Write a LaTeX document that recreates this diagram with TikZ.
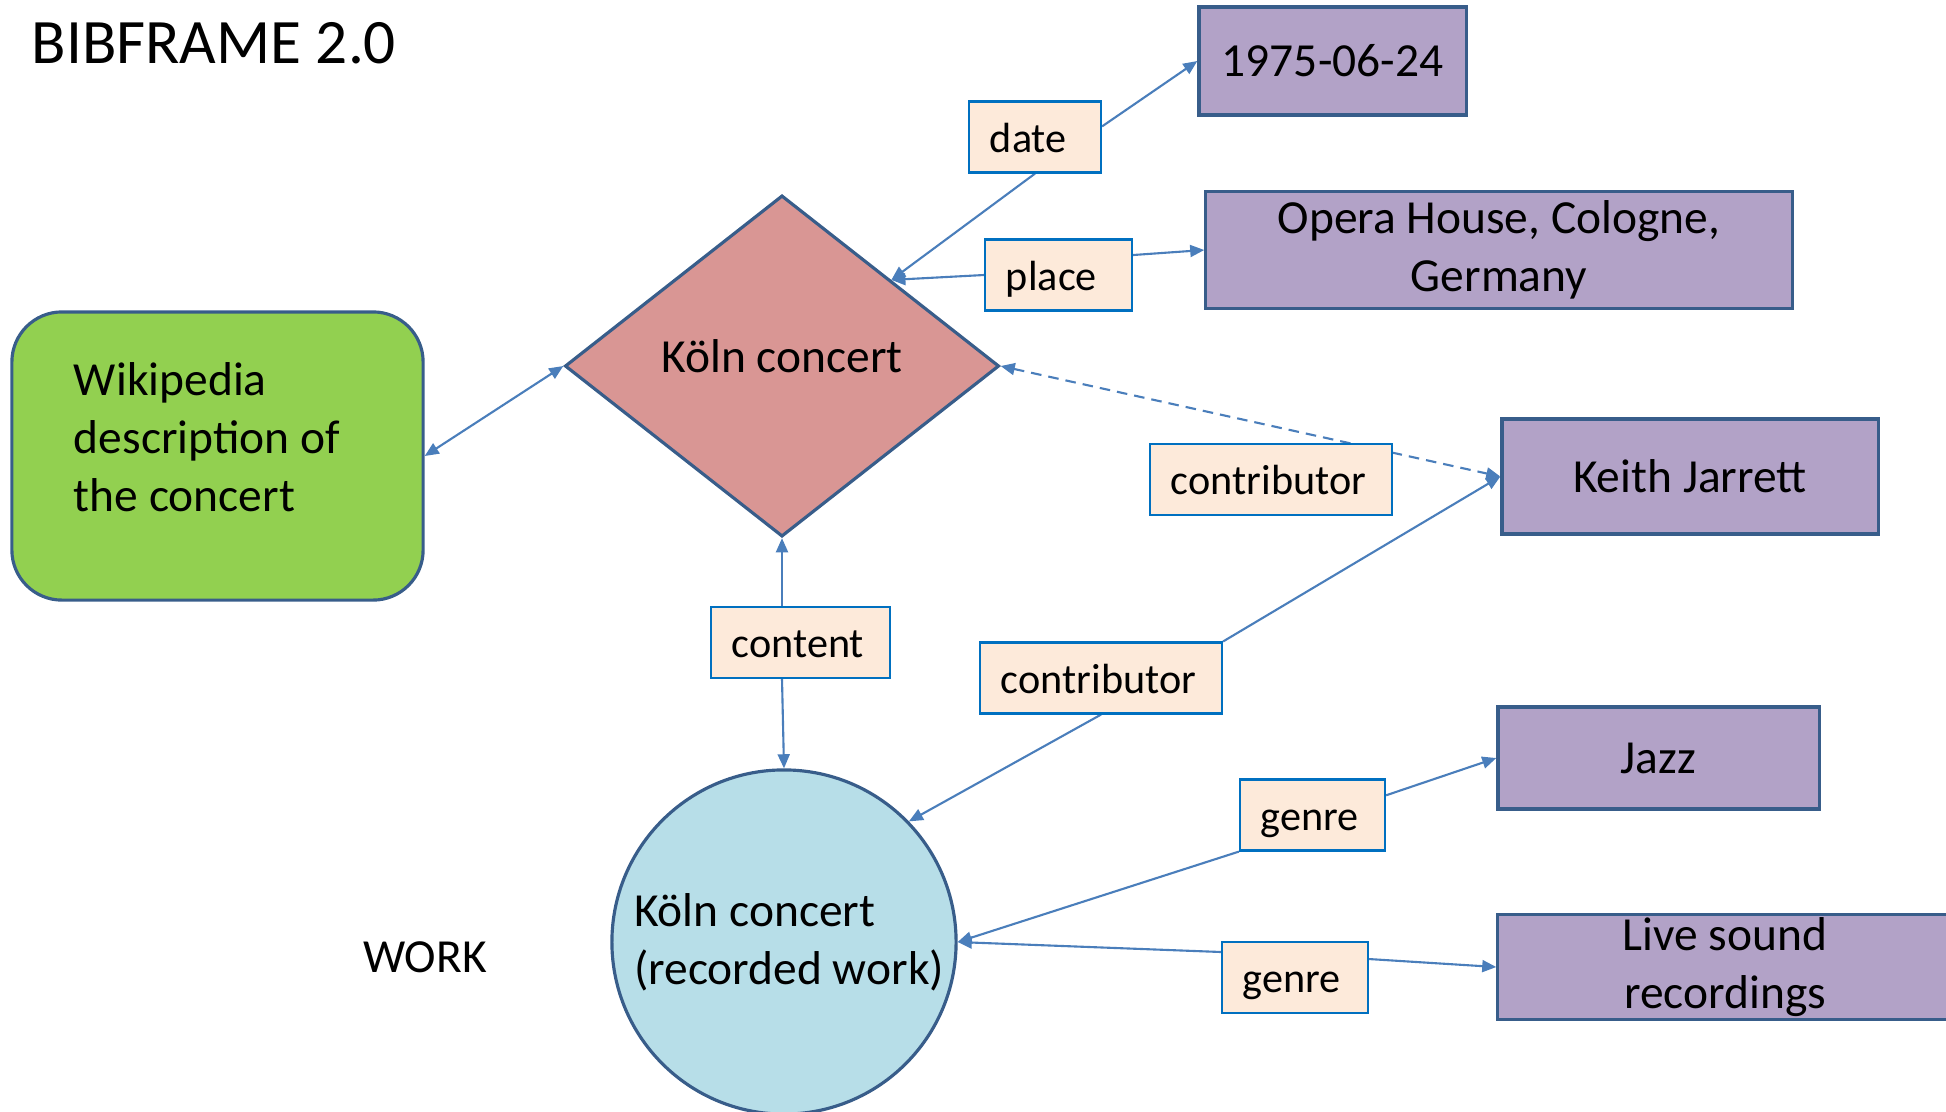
\documentclass[tikz,border=0pt]{standalone}
\usepackage{fontspec}
\setmainfont{Carlito}
\usetikzlibrary{shapes,arrows.meta,positioning,calc,backgrounds}
\definecolor{lilac}{HTML}{B2A2C7}
\definecolor{rim}{HTML}{385D8A}
\definecolor{peach}{HTML}{FDEADA}
\definecolor{tagrim}{HTML}{0070C0}
\definecolor{linkblue}{HTML}{4A7EBB}
\definecolor{leaf}{HTML}{92D050}
\definecolor{rosy}{HTML}{D99694}
\definecolor{pale}{HTML}{B7DEE8}

\begin{document}
\begin{tikzpicture}[x=0.01cm,y=-0.01cm,
    >={Triangle[length=4pt,width=3.4pt]},
    big/.style={font=\fontsize{13.5}{16.5}\selectfont},
    obj/.style={big,draw=rim,line width=0.9pt,fill=lilac,align=center,inner sep=0},
    prop/.style={draw=tagrim,line width=0.6pt,fill=peach,font=\fontsize{12}{14}\selectfont,minimum height=0.71cm,
        inner xsep=0.21cm,inner ysep=0,text width=#1,align=flush left,text height=0.3cm,text depth=0pt},
    link/.style={draw=linkblue,line width=0.6pt}]
    \useasboundingbox (0,0) rectangle (1946,1111);
    \node[anchor=west,inner sep=0,font=\fontsize{18}{22}\selectfont] (title) at (31,43) {BIBFRAME 2.0};
    \node[big,draw=rim,line width=0.9pt,fill=leaf,rounded corners=0.5cm,minimum width=4.11cm,minimum height=2.88cm,text width=2.87cm,align=flush left,inner sep=0,text depth=1.54cm] (wiki) at (217.5,456) {Wikipedia\\description of\\the concert};
    \node[big,diamond,draw=rim,line width=0.9pt,fill=rosy,minimum width=4.34cm,minimum height=3.41cm,inner sep=0,text depth=0.2cm] (koln) at (782,366) {Köln concert};
    \node[big,circle,draw=rim,line width=0.9pt,fill=pale,minimum size=3.44cm,align=left,inner sep=0] (recwork) at (784,942) {\hspace*{0.1cm}Köln concert\\\hspace*{0.1cm}(recorded work)};
    \node[big] (work) at (425,957) {WORK};
    % things
    \node[obj,minimum width=2.67cm,minimum height=1.08cm] (day) at (1332.5,61) {1975-06-24};
    \node[obj,minimum width=5.86cm,minimum height=1.17cm] (venue) at (1499,250) {Opera House, Cologne,\\Germany};
    \node[obj,minimum width=3.76cm,minimum height=1.15cm] (keith) at (1690,476.5) {Keith Jarrett};
    \node[obj,minimum width=3.21cm,minimum height=1.02cm] (jazz) at (1658.5,758) {Jazz};
    \node[obj,minimum width=4.54cm,minimum height=1.05cm] (live) at (1725,967) {Live sound\\recordings};
    % properties
    \node[prop=0.90cm] (date) at (1035,137) {date};
    \node[prop=1.05cm] (place) at (1058.5,275) {place};
    \node[prop=2.00cm] (contribA) at (1271,479.5) {contributor};
    \node[prop=1.37cm] (content) at (800.5,642.5) {content};
    \node[prop=2.00cm] (contribB) at (1101,678) {contributor};
    \node[prop=1.03cm] (genreA) at (1312.5,815) {genre};
    \node[prop=1.04cm] (genreB) at (1295,977.5) {genre};
    \begin{scope}[on background layer]
        \draw[link,<->] (wiki.east) -- (koln.west);
        \draw[link,->] (date.south) -- (koln.north east);
        \draw[link,->] (date.9) -- (day.west);
        \draw[link,->] (place.west) -- (koln.north east);
        \draw[link,->] (place.15) -- (venue.west);
        \draw[link,<->,dash pattern=on 3pt off 2pt] (koln.east) -- (keith.west);
        \draw[link,->] (content.north -| koln.south) -- (koln.south);
        \draw[link,->] (content.south -| koln.south) -- (recwork.north);
        \draw[link,->] (contribB.north east) -- (keith.west);
        \draw[link,->] (contribB.south) -- (recwork.44);
        \draw[link,->] (genreA.south west) -- (recwork.east);
        \draw[link,->] (genreA.15) -- (jazz.west);
        \draw[link,->] (genreB.161) -- (recwork.east);
        \draw[link,->] (genreB.14) -- (live.west);
    \end{scope}
\end{tikzpicture}
\end{document}
